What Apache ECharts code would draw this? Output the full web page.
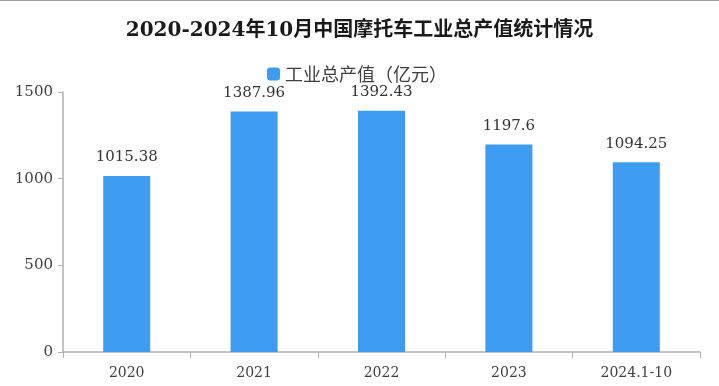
<!DOCTYPE html>
<html>
<head>
<meta charset="utf-8">
<script src="https://cdn.jsdelivr.net/npm/echarts@6/dist/echarts.min.js"></script>
<style>
html,body{margin:0;padding:0;background:#fff;}
#chart{width:719px;height:386px;}
</style>
</head>
<body>
<div id="chart"></div>
<script>
const titleText = '2020-2024年10月中国摩托车工业总产值统计情况';
const seriesName = '工业总产值（亿元）';
const categories = ['2020', '2021', '2022', '2023', '2024.1-10'];
const values = [1015.38, 1387.96, 1392.43, 1197.6, 1094.25];
const valueLabels = ['1015.38', '1387.96', '1392.43', '1197.6', '1094.25'];
const yMin = 0, yMax = 1500, yInterval = 500;

const serifFont = '"DejaVu Serif", "Noto Sans CJK SC", serif';
const chart = echarts.init(document.getElementById('chart'));
chart.setOption({
  animation: false,
  backgroundColor: '#ffffff',
  graphic: [{
    type: 'rect', left: 0, top: 0,
    shape: { width: 719, height: 1 },
    style: { fill: '#a0a0a0' }
  }],
  title: {
    text: titleText,
    left: 'center',
    top: 16,
    textStyle: { fontFamily: serifFont, fontSize: 20, fontWeight: 'bold', color: '#1a1a1a' }
  },
  legend: {
    data: [seriesName],
    left: 262,
    top: 60,
    itemWidth: 13,
    itemHeight: 13,
    itemGap: 4,
    textStyle: { fontFamily: '"Noto Sans CJK SC", sans-serif', fontSize: 18, color: '#404040' }
  },
  grid: { left: 63, right: 19, top: 92, bottom: 34, containLabel: false },
  xAxis: {
    type: 'category',
    data: categories,
    axisLine: { lineStyle: { color: '#b0b0b0', width: 1.5 } },
    axisTick: { show: true, alignWithLabel: false, length: 6, lineStyle: { color: '#b0b0b0' } },
    axisLabel: { margin: 14, fontFamily: serifFont, fontSize: 14, color: '#404040' }
  },
  yAxis: {
    type: 'value',
    min: yMin, max: yMax, interval: yInterval,
    axisLine: { show: true, lineStyle: { color: '#b0b0b0', width: 1.5 } },
    axisTick: { show: true, length: 5, lineStyle: { color: '#b0b0b0' } },
    splitLine: { show: false },
    axisLabel: { margin: 10, fontFamily: serifFont, fontSize: 15, color: '#404040', formatter: v => String(v) }
  },
  series: [{
    name: seriesName,
    type: 'bar',
    data: values,
    barWidth: 47,
    itemStyle: { color: '#3d9cf0' },
    label: {
      show: true,
      position: 'top',
      distance: 11,
      fontFamily: serifFont,
      fontSize: 15,
      color: '#333333',
      formatter: p => valueLabels[p.dataIndex]
    }
  }]
});
</script>
</body>
</html>
